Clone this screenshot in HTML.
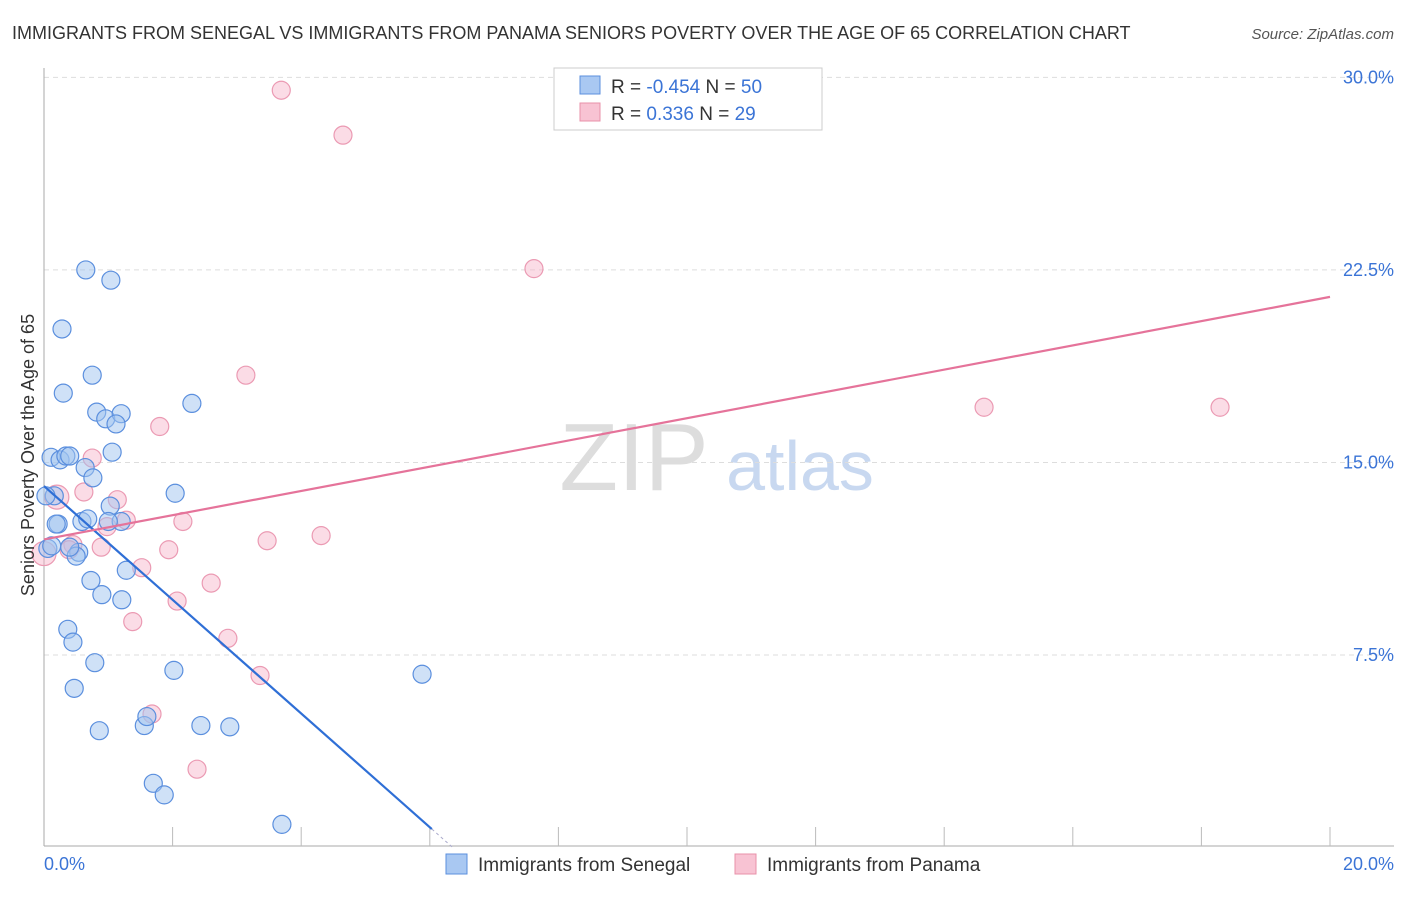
<!DOCTYPE html>
<html><head><meta charset="utf-8"><style>
body{margin:0;background:#fff;font-family:"Liberation Sans",sans-serif;}
svg text{font-family:"Liberation Sans",sans-serif;}
</style></head><body>
<svg width="1406" height="892" xmlns="http://www.w3.org/2000/svg" id="chart">
<text x="12" y="39" font-size="18" fill="#333">IMMIGRANTS FROM SENEGAL VS IMMIGRANTS FROM PANAMA SENIORS POVERTY OVER THE AGE OF 65 CORRELATION CHART</text>
<text x="1394" y="39" font-size="15" fill="#555" font-style="italic" text-anchor="end">Source: ZipAtlas.com</text>
<text x="634" y="490" font-size="96" fill="#ddd" font-family="Liberation Serif" text-anchor="middle">ZIP</text>
<text x="800" y="490" font-size="70" fill="#c8d8f0" text-anchor="middle">atlas</text>
<g id="grid"></g>
<g id="axes"></g>
<g id="pts"></g>
<g id="lines"></g>
<text transform="translate(34,455) rotate(-90)" font-size="18" fill="#333" text-anchor="middle">Seniors Poverty Over the Age of 65</text>
<g>
<rect x="554" y="68" width="268" height="62" fill="#fff" stroke="#ccc"/>
<rect x="580" y="76" width="20" height="18" fill="#a9c8f2" stroke="#5b8fde"/>
<rect x="580" y="103" width="20" height="18" fill="#f8c3d3" stroke="#e890aa"/>
<text x="611" y="93" font-size="19" fill="#333">R = <tspan fill="#3b74d6">-0.454</tspan>   N = <tspan fill="#3b74d6">50</tspan></text>
<text x="611" y="120" font-size="19" fill="#333">R =   <tspan fill="#3b74d6">0.336</tspan>   N = <tspan fill="#3b74d6">29</tspan></text>
</g>
<g>
<rect x="446" y="854" width="21" height="20" fill="#a9c8f2" stroke="#5b8fde"/>
<text x="478" y="871" font-size="19" fill="#333">Immigrants from Senegal</text>
<rect x="735" y="854" width="21" height="20" fill="#f8c3d3" stroke="#e890aa"/>
<text x="767" y="871" font-size="19" fill="#333">Immigrants from Panama</text>
</g>
</svg>
<script>
const blueX=[0.65,1.04,0.28,0.75,0.30,2.30,0.82,0.96,1.20,1.12,0.11,0.25,0.34,0.40,1.06,0.64,0.76,0.16,2.04,1.03,0.59,0.22,0.68,1.20,0.19,0.06,0.12,0.54,0.50,1.28,0.73,0.90,1.21,0.37,0.45,0.79,2.02,5.88,0.47,0.86,1.56,1.60,2.44,2.89,1.70,1.87,3.70,0.03,1.0,0.4];
const blueY=[22.5,22.1,20.2,18.4,17.7,17.3,16.96,16.7,16.9,16.5,15.2,15.1,15.25,15.25,15.4,14.8,14.4,13.7,13.8,13.3,12.7,12.6,12.8,12.7,12.6,11.65,11.75,11.5,11.35,10.8,10.4,9.85,9.65,8.5,8.0,7.2,6.9,6.75,6.2,4.55,4.75,5.1,4.75,4.7,2.5,2.05,0.9,13.7,12.7,11.7];
const pinkX=[3.69,4.65,7.62,3.14,1.80,14.62,18.29,0.75,0.62,0.2,1.14,1.28,2.16,0.98,3.47,4.31,1.94,0.89,0.45,0,0.39,1.52,2.60,2.07,1.38,2.86,3.36,1.68,2.38];
const pinkY=[29.5,27.75,22.55,18.4,16.4,17.15,17.15,15.17,13.85,13.65,13.55,12.75,12.7,12.5,11.95,12.15,11.6,11.7,11.8,11.45,11.6,10.9,10.3,9.6,8.8,8.15,6.7,5.2,3.05];
const yTicks=[7.5,15,22.5,30];
const yTickLabels=["7.5%","15.0%","22.5%","30.0%"];
const blueLine=[14.08,-2.215];
const pinkLine=[12.0,0.4725];
const NS="http://www.w3.org/2000/svg";
const X=v=>44+v*64.3, Y=v=>847.5-v*25.67;
function mk(t,a,p){const e=document.createElementNS(NS,t);for(const k in a)e.setAttribute(k,a[k]);p.appendChild(e);return e;}
const grid=document.getElementById('grid'),axes=document.getElementById('axes'),pts=document.getElementById('pts'),lines=document.getElementById('lines');
yTicks.forEach((t,i)=>{
 const l=mk('line',{x1:44,x2:1394,y1:Y(t),y2:Y(t),stroke:'#ddd','stroke-dasharray':'5,4'},grid);
 
 
 const tx=mk('text',{x:1394,y:Y(t)+6,'font-size':18,fill:'#3b74d6','text-anchor':'end'},axes);
 tx.textContent=yTickLabels[i];
 
 
});
mk('line',{x1:44,x2:44,y1:68,y2:846,stroke:'#aaa'},axes);
mk('line',{x1:44,x2:1394,y1:846,y2:846,stroke:'#aaa'},axes);
for(let i=1;i<=10;i++){const t=mk('line',{x1:X(i*2),x2:X(i*2),y1:827,y2:846,stroke:'#bbb'},axes);
 
 }
const x0=mk('text',{x:44,y:870,'font-size':18,fill:'#3b74d6'},axes);x0.textContent='0.0%';


const x1=mk('text',{x:1394,y:870,'font-size':18,fill:'#3b74d6','text-anchor':'end'},axes);x1.textContent='20.0%';


pinkX.forEach((v,i)=>{const c=mk('circle',{cx:X(v),cy:Y(pinkY[i]),r:(v<0.3?12:9),fill:'rgba(246,178,200,0.45)',stroke:'#eb9ab3','stroke-width':1.2},pts);
 
 });
blueX.forEach((v,i)=>{const c=mk('circle',{cx:X(v),cy:Y(blueY[i]),r:9,fill:'rgba(160,196,240,0.5)',stroke:'#5b8fde','stroke-width':1.2},pts);
 
 });
const bEnd=(0.72-blueLine[0])/blueLine[1];
const bl=mk('line',{x1:X(0),y1:Y(blueLine[0]),x2:X(bEnd),y2:Y(blueLine[0]+blueLine[1]*bEnd),stroke:'#2f6fd6','stroke-width':2.2},lines);


const bx2=-blueLine[0]/blueLine[1];
const bd=mk('line',{x1:X(bEnd),y1:Y(blueLine[0]+blueLine[1]*bEnd),x2:X(bx2),y2:Y(0),stroke:'#aac','stroke-width':1,'stroke-dasharray':'3,3'},lines);


const pl=mk('line',{x1:X(0),y1:Y(pinkLine[0]),x2:X(20),y2:Y(pinkLine[0]+pinkLine[1]*20),stroke:'#e5739a','stroke-width':2.2},lines);


</script>
</body></html>
